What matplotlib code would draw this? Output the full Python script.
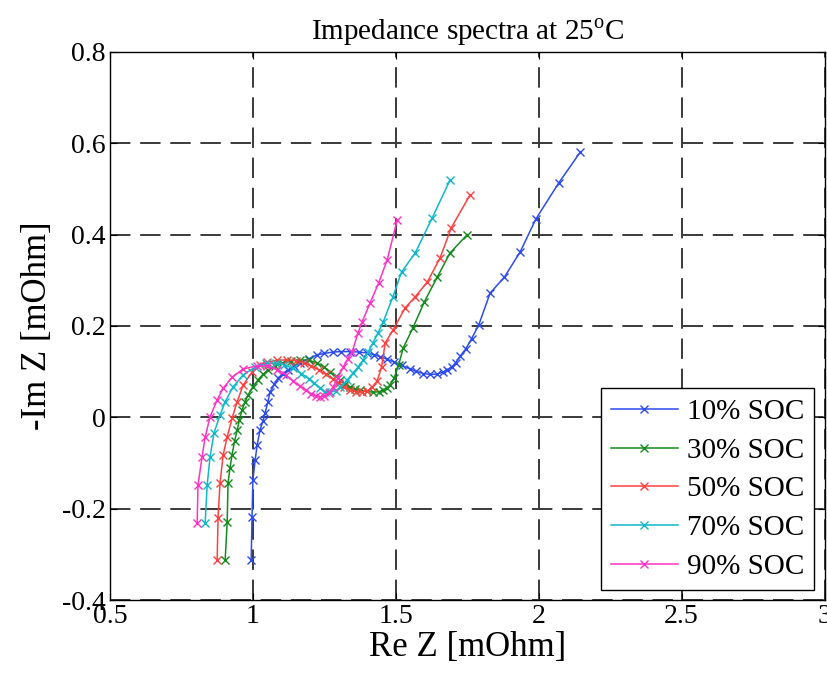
import matplotlib
matplotlib.use("Agg")
import matplotlib.pyplot as plt

plt.rcParams["font.family"] = ["Liberation Serif", "DejaVu Serif"]
plt.rcParams["mathtext.fontset"] = "custom"
plt.rcParams["mathtext.rm"] = "Liberation Serif"

# Nyquist data: Re Z, -Im Z [mOhm]
re_10 = [0.994, 0.997, 1.000, 1.008, 1.015, 1.025, 1.035, 1.043, 1.052, 1.060, 1.075, 1.088,
         1.105, 1.123, 1.145, 1.165, 1.195, 1.225, 1.250, 1.280, 1.310, 1.340, 1.370, 1.400,
         1.425, 1.445, 1.470, 1.494, 1.520, 1.550, 1.570, 1.596, 1.620, 1.645, 1.665, 1.680,
         1.695, 1.710, 1.725, 1.745, 1.765, 1.790, 1.830, 1.880, 1.935, 1.990, 2.070, 2.146]
im_10 = [-0.312, -0.218, -0.137, -0.093, -0.060, -0.028, -0.008, 0.010, 0.033, 0.055, 0.072, 0.086,
         0.096, 0.104, 0.112, 0.119, 0.128, 0.137, 0.140, 0.143, 0.144, 0.144, 0.143, 0.141,
         0.137, 0.133, 0.127, 0.121, 0.114, 0.106, 0.101, 0.096, 0.094, 0.095, 0.099, 0.104,
         0.110, 0.120, 0.134, 0.150, 0.172, 0.202, 0.272, 0.307, 0.362, 0.434, 0.513, 0.581]

re_30 = [0.903, 0.910, 0.913, 0.920, 0.927, 0.936, 0.945, 0.953, 0.962, 0.972, 0.983, 1.000,
         1.018, 1.035, 1.053, 1.078, 1.102, 1.135, 1.165, 1.195, 1.225, 1.250, 1.270, 1.290,
         1.305, 1.322, 1.340, 1.358, 1.375, 1.398, 1.420, 1.440, 1.456, 1.470, 1.480, 1.494,
         1.510, 1.526, 1.560, 1.600, 1.645, 1.690, 1.750]
im_30 = [-0.312, -0.230, -0.144, -0.110, -0.082, -0.052, -0.028, -0.005, 0.016, 0.033, 0.049, 0.067,
         0.082, 0.094, 0.104, 0.113, 0.119, 0.124, 0.126, 0.125, 0.119, 0.110, 0.099, 0.090,
         0.082, 0.074, 0.066, 0.062, 0.060, 0.057, 0.055, 0.056, 0.060, 0.065, 0.071, 0.086,
         0.115, 0.152, 0.196, 0.253, 0.307, 0.360, 0.400]

re_50 = [0.875, 0.878, 0.885, 0.896, 0.910, 0.927, 0.945, 0.966, 0.997, 1.025, 1.050, 1.085,
         1.120, 1.150, 1.180, 1.205, 1.230, 1.255, 1.280, 1.300, 1.320, 1.340, 1.360, 1.380,
         1.400, 1.418, 1.435, 1.450, 1.463, 1.490, 1.533, 1.568, 1.610, 1.655, 1.694, 1.760]
im_50 = [-0.312, -0.220, -0.144, -0.082, -0.043, -0.002, 0.034, 0.071, 0.099, 0.115, 0.121, 0.125,
         0.126, 0.124, 0.119, 0.112, 0.104, 0.094, 0.084, 0.075, 0.067, 0.060, 0.056, 0.055,
         0.058, 0.066, 0.080, 0.110, 0.163, 0.191, 0.240, 0.264, 0.296, 0.349, 0.415, 0.487]

re_70 = [0.833, 0.840, 0.850, 0.864, 0.885, 0.903, 0.930, 0.966, 1.008, 1.045, 1.080, 1.110,
         1.140, 1.170, 1.195, 1.215, 1.235, 1.253, 1.270, 1.290, 1.305, 1.330, 1.350, 1.368,
         1.385, 1.403, 1.420, 1.438, 1.456, 1.490, 1.520, 1.568, 1.627, 1.690]
im_70 = [-0.231, -0.148, -0.087, -0.034, 0.005, 0.034, 0.066, 0.093, 0.110, 0.118, 0.119, 0.115,
         0.107, 0.096, 0.085, 0.075, 0.064, 0.056, 0.055, 0.058, 0.066, 0.082, 0.097, 0.110,
         0.125, 0.143, 0.163, 0.185, 0.209, 0.264, 0.318, 0.360, 0.436, 0.520]

re_90 = [0.805, 0.808, 0.822, 0.833, 0.850, 0.875, 0.896, 0.927, 0.966, 1.015, 1.050, 1.085,
         1.115, 1.140, 1.165, 1.185, 1.205, 1.220, 1.235, 1.250, 1.265, 1.280, 1.298, 1.316,
         1.332, 1.347, 1.368, 1.382, 1.410, 1.440, 1.470, 1.505]
im_90 = [-0.231, -0.148, -0.087, -0.043, 0.001, 0.038, 0.064, 0.088, 0.106, 0.113, 0.112, 0.104,
         0.093, 0.080, 0.068, 0.059, 0.051, 0.047, 0.045, 0.047, 0.054, 0.066, 0.087, 0.110,
         0.128, 0.143, 0.185, 0.209, 0.250, 0.294, 0.345, 0.432]

labels = ["10% SOC", "30% SOC", "50% SOC", "70% SOC", "90% SOC"]
colors = ["#2d4cf0", "#138c1e", "#ff4040", "#10b8c8", "#ff33c4"]

series = [(re_10, im_10), (re_30, im_30), (re_50, im_50), (re_70, im_70), (re_90, im_90)]

fig = plt.figure(figsize=(8.27, 6.82), dpi=100)
ax = fig.add_axes([0.133, 0.120, 0.864, 0.804])

for (x, y), lab, c in zip(series, labels, colors):
    ax.plot(x, y, color=c, marker="x", markersize=6, markeredgewidth=1.0,
            linewidth=1.1, label=lab)

ax.set_xlim(0.5, 3.0)
ax.set_ylim(-0.4, 0.8)
ax.set_xticks([0.5, 1, 1.5, 2, 2.5, 3])
ax.set_xticklabels(["0.5", "1", "1.5", "2", "2.5", "3"])
ax.set_yticks([-0.4, -0.2, 0, 0.2, 0.4, 0.6, 0.8])
ax.set_yticklabels(["-0.4", "-0.2", "0", "0.2", "0.4", "0.6", "0.8"])
ax.tick_params(direction="in", top=True, right=True, labelsize=20, length=5, width=0.8, pad=3)
ax.grid(True, color="#3a3a3a", linestyle=(0, (10.5, 5)), linewidth=1.4)
for sp in ax.spines.values():
    sp.set_linewidth(1.0)

ax.set_xlabel("Re Z [mOhm]", fontsize=25, labelpad=1)
ax.set_ylabel("-Im Z [mOhm]", fontsize=25, labelpad=6)
ax.set_title(r"Impedance spectra at 25$^{\mathrm{o}}$C", fontsize=21, pad=9)

leg = ax.legend(loc="lower right", fontsize=21, fancybox=False, framealpha=1,
                edgecolor="black", borderaxespad=0.35, handlelength=2.3,
                handletextpad=0.3, labelspacing=0.42, borderpad=0.35)
leg.get_frame().set_linewidth(1.0)

fig.savefig("out.png", dpi=100)
